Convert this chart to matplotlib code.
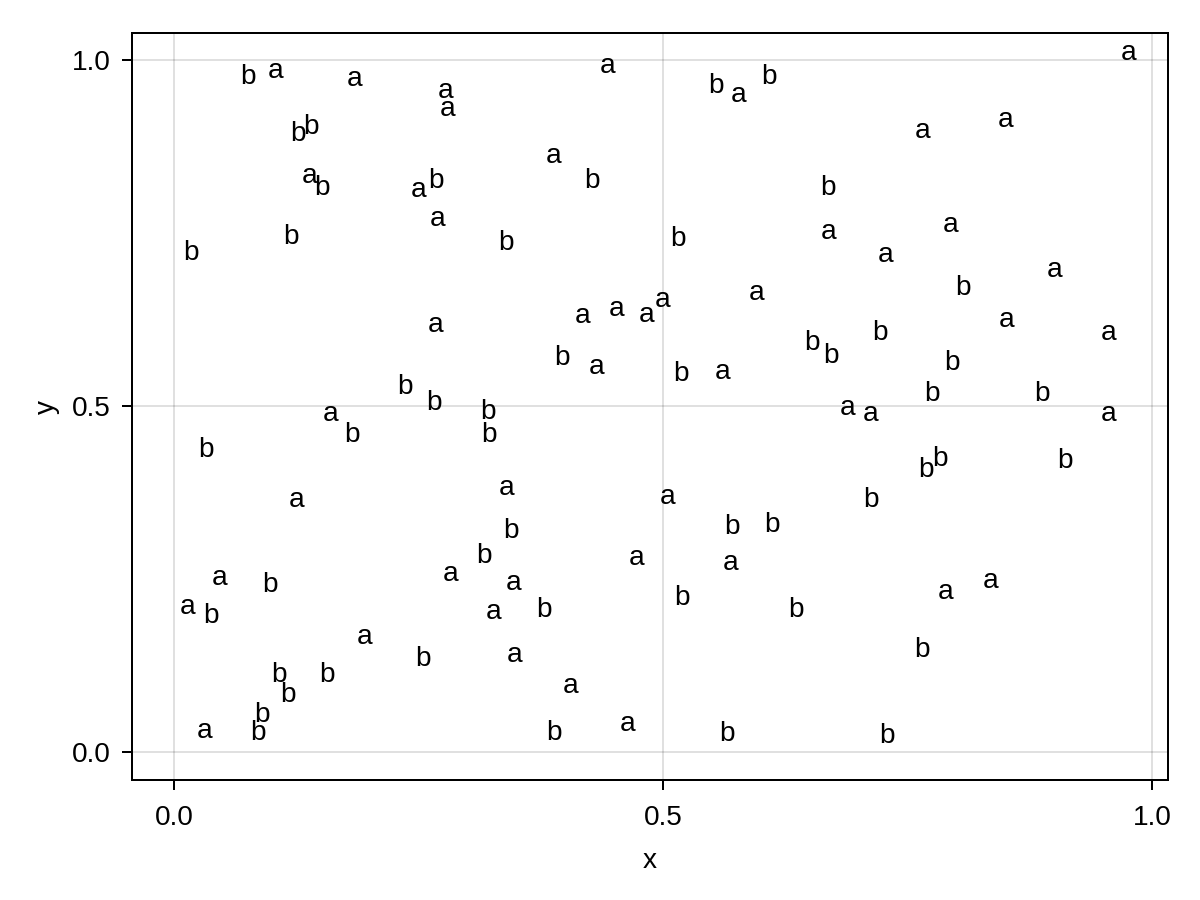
import matplotlib
matplotlib.use("Agg")
import matplotlib.pyplot as plt
import numpy as np

# label anchor positions (left-bottom of text)
a_x = [0.096, 0.177, 0.270, 0.272, 0.131, 0.242, 0.262, 0.259,
       0.152, 0.117, 0.275, 0.039, 0.006, 0.187, 0.023,
       0.435, 0.569, 0.380, 0.588, 0.410, 0.445, 0.475, 0.492, 0.424, 0.553,
       0.968, 0.757, 0.842, 0.661, 0.786, 0.720, 0.892, 0.843, 0.948,
       0.332, 0.497, 0.465, 0.561, 0.339, 0.319, 0.340, 0.398, 0.456,
       0.681, 0.704, 0.948, 0.781, 0.827]
a_y = [0.965, 0.954, 0.937, 0.910, 0.813, 0.793, 0.751, 0.598,
       0.470, 0.346, 0.239, 0.233, 0.190, 0.148, 0.012,
       0.972, 0.930, 0.842, 0.645, 0.611, 0.622, 0.612, 0.634, 0.537, 0.531,
       0.992, 0.878, 0.894, 0.732, 0.743, 0.699, 0.677, 0.605, 0.587,
       0.363, 0.350, 0.262, 0.255, 0.225, 0.183, 0.121, 0.076, 0.022,
       0.478, 0.470, 0.470, 0.212, 0.229]

b_x = [0.068, 0.119, 0.132, 0.143, 0.260, 0.112, 0.009, 0.228, 0.258,
       0.174, 0.025, 0.090, 0.030, 0.247, 0.099, 0.149, 0.109, 0.082, 0.078,
       0.546, 0.600, 0.419, 0.332, 0.507, 0.644, 0.389, 0.510,
       0.661, 0.799, 0.714, 0.664, 0.788, 0.767, 0.880,
       0.313, 0.314, 0.337, 0.604, 0.563, 0.309, 0.511, 0.370, 0.628, 0.381, 0.558,
       0.761, 0.775, 0.903, 0.705, 0.757, 0.721]
b_y = [0.956, 0.874, 0.884, 0.796, 0.806, 0.725, 0.703, 0.509, 0.485,
       0.439, 0.418, 0.223, 0.177, 0.115, 0.093, 0.093, 0.063, 0.034, 0.009,
       0.944, 0.956, 0.806, 0.717, 0.723, 0.572, 0.550, 0.527,
       0.796, 0.651, 0.586, 0.554, 0.543, 0.499, 0.499,
       0.472, 0.439, 0.301, 0.309, 0.306, 0.265, 0.204, 0.187, 0.186, 0.009, 0.007,
       0.389, 0.404, 0.402, 0.346, 0.128, 0.005]

x_ticks = [0.0, 0.5, 1.0]
y_ticks = [0.0, 0.5, 1.0]
tick_labels = ["0.0", "0.5", "1.0"]

plt.rcParams['font.family'] = ['Liberation Sans', 'DejaVu Sans']
FS = 10.08
LW = 0.72

fig = plt.figure(figsize=(6, 4.5), dpi=200)
ax = fig.add_axes([132/1200, 1-780/900, (1168-132)/1200, (780-33)/900])

for x, y in zip(a_x, a_y):
    ax.text(x, y, "a", ha="left", va="bottom", fontsize=FS, color="black")
for x, y in zip(b_x, b_y):
    ax.text(x, y, "b", ha="left", va="bottom", fontsize=FS, color="black")

ax.set_xlim(-0.0429, 1.0164)
ax.set_ylim(-0.0405, 1.039)
ax.set_xticks(x_ticks)
ax.set_xticklabels(tick_labels)
ax.set_yticks(y_ticks)
ax.set_yticklabels(tick_labels)
ax.grid(True, color="black", alpha=0.12, linewidth=LW)
ax.set_axisbelow(True)
for s in ax.spines.values():
    s.set_linewidth(LW)
ax.tick_params(axis="both", direction="out", length=3.6, width=LW,
               labelsize=FS, color="black", labelcolor="black")
ax.tick_params(axis="x", pad=5.5)
ax.tick_params(axis="y", pad=4)
ax.set_xlabel("x", fontsize=FS, labelpad=6)
ax.set_ylabel("y", fontsize=FS, labelpad=4.5)

fig.savefig("out.png", dpi=200)
